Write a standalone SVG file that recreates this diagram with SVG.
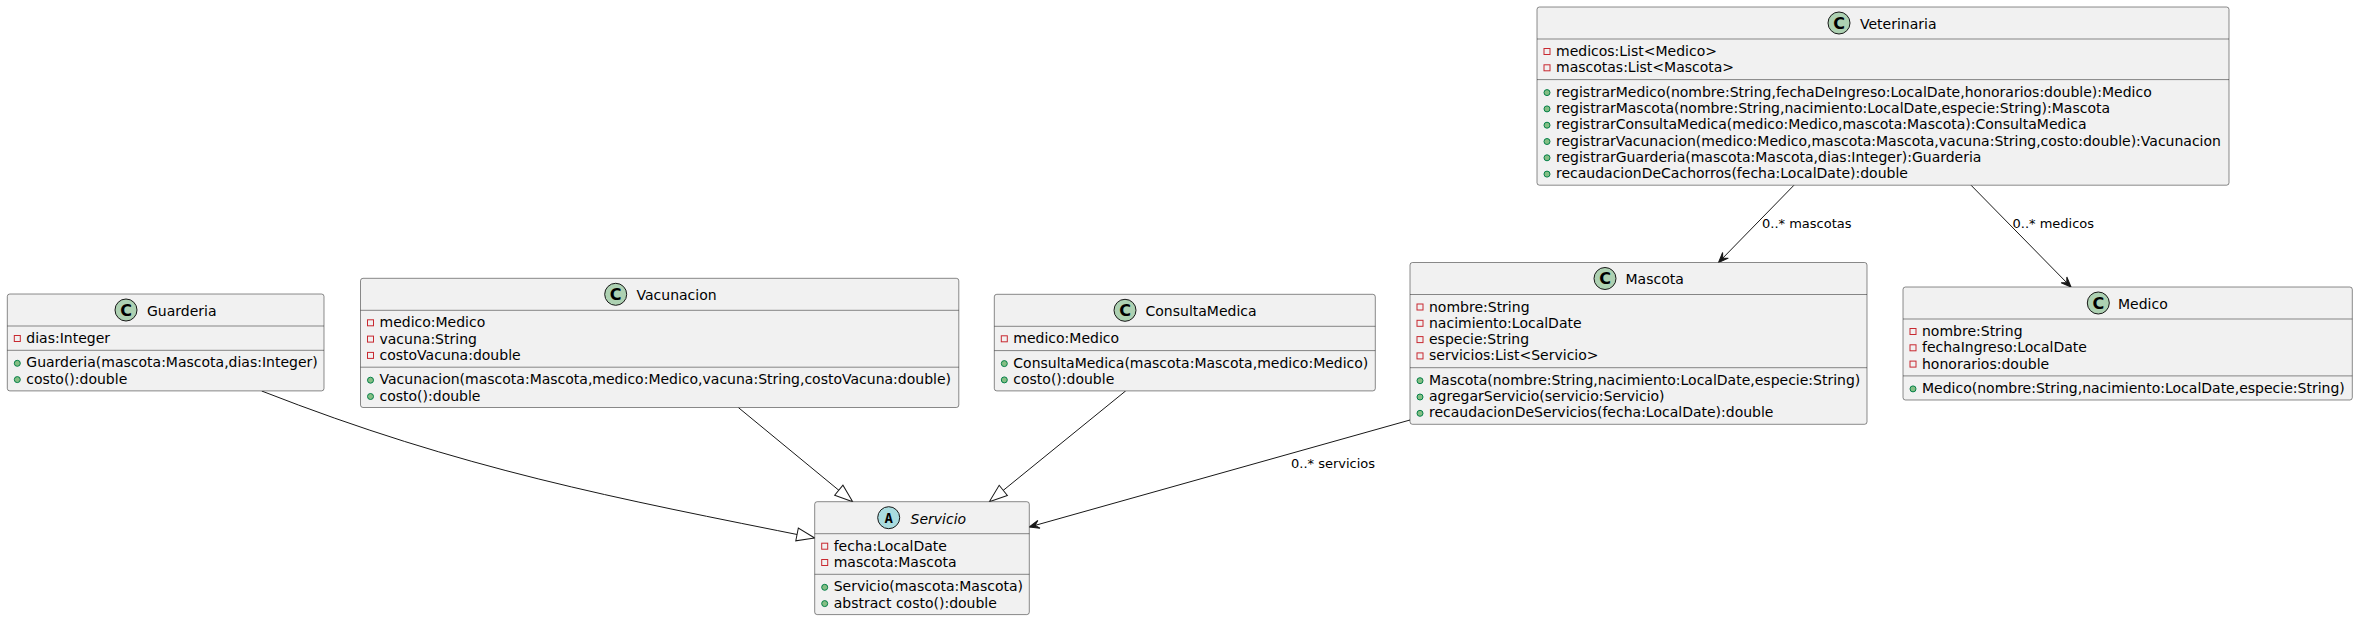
<svg xmlns="http://www.w3.org/2000/svg" width="2358" height="620" viewBox="0 0 2358 620">
<style>
.bg{fill:#FFFFFF}
.box{fill:#F1F1F1;stroke:#181818;stroke-width:0.5}
.sep{stroke:#181818;stroke-width:0.5}
.t{font-family:"DejaVu Sans","Noto Sans",sans-serif;font-size:14px;fill:#000000}
.it{font-style:italic}
.lbl{font-family:"DejaVu Sans","Noto Sans",sans-serif;font-size:13px;fill:#000000}
.priv{fill:none;stroke:#C82930;stroke-width:1}
.pub{fill:#84BE84;stroke:#038048;stroke-width:1}
.cc{fill:#ADD1B2;stroke:#181818;stroke-width:1}
.ca{fill:#A9DCDF;stroke:#181818;stroke-width:1}
.glyph{font-family:"DejaVu Sans",sans-serif;font-size:16px;font-weight:bold;fill:#000000;text-anchor:middle}
.glyphA{font-family:"DejaVu Sans Mono",monospace;font-size:14px;font-weight:bold;fill:#000000;text-anchor:middle}
.edge{fill:none;stroke:#181818;stroke-width:1}
</style>
<defs>
<marker id="arrow" viewBox="-12 -6 14 12" refX="0" refY="0" markerWidth="14" markerHeight="12" markerUnits="userSpaceOnUse" orient="auto">
<path d="M0,0 L-10,-4 L-6,0 L-10,4 Z" fill="#181818" stroke="#181818" stroke-width="1"/>
</marker>
<marker id="tri" viewBox="-20 -8 22 16" refX="0" refY="0" markerWidth="22" markerHeight="16" markerUnits="userSpaceOnUse" orient="auto">
<path d="M0,0 L-18,-6.5 L-18,6.5 Z" fill="#FFFFFF" stroke="#181818" stroke-width="1"/>
</marker>
</defs>
<rect class="bg" x="0" y="0" width="2358" height="620"/>

<g id="connectors">
<path class="edge" d="M1794,185.2 L1718.5,262.5" marker-end="url(#arrow)"/>
<text class="lbl" x="1762" y="227.7">0..* mascotas</text>
<path class="edge" d="M1971,185.2 L2071,287" marker-end="url(#arrow)"/>
<text class="lbl" x="2012.5" y="227.7">0..* medicos</text>
<path class="edge" d="M1410,420 L1029.3,527" marker-end="url(#arrow)"/>
<text class="lbl" x="1291" y="467.7">0..* servicios</text>
<path class="edge" d="M261.7,391 C461.7,469.3 614.7,498 814.7,538" marker-end="url(#tri)"/>
<path class="edge" d="M738.3,407.5 L852.7,501.7" marker-end="url(#tri)"/>
<path class="edge" d="M1125.7,390.9 L989.3,501.7" marker-end="url(#tri)"/>
</g>

<g id="Veterinaria">
<rect class="box" x="1537" y="7" width="692" height="178.2" rx="2.5" ry="2.5"/>
<circle class="cc" cx="1839" cy="23" r="11"/>
<text class="glyph" x="1839" y="28.8">C</text>
<text class="t" x="1860" y="28.8">Veterinaria</text>
<line class="sep" x1="1537" y1="39" x2="2229" y2="39"/>
<rect class="priv" x="1544" y="48.5" width="6" height="6"/>
<text class="t" x="1556" y="56">medicos:List&lt;Medico&gt;</text>
<rect class="priv" x="1544" y="64.8" width="6" height="6"/>
<text class="t" x="1556" y="72.3">mascotas:List&lt;Mascota&gt;</text>
<line class="sep" x1="1537" y1="79.6" x2="2229" y2="79.6"/>
<circle class="pub" cx="1547" cy="92.6" r="3"/>
<text class="t" x="1556" y="96.6">registrarMedico(nombre:String,fechaDeIngreso:LocalDate,honorarios:double):Medico</text>
<circle class="pub" cx="1547" cy="108.9" r="3"/>
<text class="t" x="1556" y="112.9">registrarMascota(nombre:String,nacimiento:LocalDate,especie:String):Mascota</text>
<circle class="pub" cx="1547" cy="125.2" r="3"/>
<text class="t" x="1556" y="129.2">registrarConsultaMedica(medico:Medico,mascota:Mascota):ConsultaMedica</text>
<circle class="pub" cx="1547" cy="141.5" r="3"/>
<text class="t" x="1556" y="145.5">registrarVacunacion(medico:Medico,mascota:Mascota,vacuna:String,costo:double):Vacunacion</text>
<circle class="pub" cx="1547" cy="157.8" r="3"/>
<text class="t" x="1556" y="161.8">registrarGuarderia(mascota:Mascota,dias:Integer):Guarderia</text>
<circle class="pub" cx="1547" cy="174.1" r="3"/>
<text class="t" x="1556" y="178.1">recaudacionDeCachorros(fecha:LocalDate):double</text>
</g>

<g id="Mascota">
<rect class="box" x="1410" y="262.5" width="457" height="161.8" rx="2.5" ry="2.5"/>
<circle class="cc" cx="1605" cy="278.5" r="11"/>
<text class="glyph" x="1605" y="284.3">C</text>
<text class="t" x="1625.5" y="284.3">Mascota</text>
<line class="sep" x1="1410" y1="294.5" x2="1867" y2="294.5"/>
<rect class="priv" x="1417" y="304" width="6" height="6"/>
<text class="t" x="1429" y="311.5">nombre:String</text>
<rect class="priv" x="1417" y="320.3" width="6" height="6"/>
<text class="t" x="1429" y="327.8">nacimiento:LocalDate</text>
<rect class="priv" x="1417" y="336.6" width="6" height="6"/>
<text class="t" x="1429" y="344.1">especie:String</text>
<rect class="priv" x="1417" y="352.9" width="6" height="6"/>
<text class="t" x="1429" y="360.4">servicios:List&lt;Servicio&gt;</text>
<line class="sep" x1="1410" y1="367.7" x2="1867" y2="367.7"/>
<circle class="pub" cx="1420" cy="380.7" r="3"/>
<text class="t" x="1429" y="384.7">Mascota(nombre:String,nacimiento:LocalDate,especie:String)</text>
<circle class="pub" cx="1420" cy="397" r="3"/>
<text class="t" x="1429" y="401">agregarServicio(servicio:Servicio)</text>
<circle class="pub" cx="1420" cy="413.3" r="3"/>
<text class="t" x="1429" y="417.3">recaudacionDeServicios(fecha:LocalDate):double</text>
</g>

<g id="Medico">
<rect class="box" x="1903" y="287" width="449.3" height="113" rx="2.5" ry="2.5"/>
<circle class="cc" cx="2098.3" cy="303" r="11"/>
<text class="glyph" x="2098.3" y="308.8">C</text>
<text class="t" x="2118" y="308.8">Medico</text>
<line class="sep" x1="1903" y1="319" x2="2352.3" y2="319"/>
<rect class="priv" x="1910" y="328.5" width="6" height="6"/>
<text class="t" x="1922" y="336">nombre:String</text>
<rect class="priv" x="1910" y="344.8" width="6" height="6"/>
<text class="t" x="1922" y="352.3">fechaIngreso:LocalDate</text>
<rect class="priv" x="1910" y="361.1" width="6" height="6"/>
<text class="t" x="1922" y="368.6">honorarios:double</text>
<line class="sep" x1="1903" y1="375.9" x2="2352.3" y2="375.9"/>
<circle class="pub" cx="1913" cy="388.9" r="3"/>
<text class="t" x="1922" y="392.9">Medico(nombre:String,nacimiento:LocalDate,especie:String)</text>
</g>

<g id="Guarderia">
<rect class="box" x="7.3" y="294" width="316.7" height="96.9" rx="2.5" ry="2.5"/>
<circle class="cc" cx="126" cy="310" r="11"/>
<text class="glyph" x="126" y="315.8">C</text>
<text class="t" x="147" y="315.8">Guarderia</text>
<line class="sep" x1="7.3" y1="326" x2="324" y2="326"/>
<rect class="priv" x="14.3" y="335.5" width="6" height="6"/>
<text class="t" x="26.3" y="343">dias:Integer</text>
<line class="sep" x1="7.3" y1="350.3" x2="324" y2="350.3"/>
<circle class="pub" cx="17.3" cy="363.3" r="3"/>
<text class="t" x="26.3" y="367.3">Guarderia(mascota:Mascota,dias:Integer)</text>
<circle class="pub" cx="17.3" cy="379.6" r="3"/>
<text class="t" x="26.3" y="383.6">costo():double</text>
</g>

<g id="Vacunacion">
<rect class="box" x="360.5" y="278.3" width="598.3" height="129.2" rx="2.5" ry="2.5"/>
<circle class="cc" cx="615.7" cy="294.3" r="11"/>
<text class="glyph" x="615.7" y="300.1">C</text>
<text class="t" x="636.5" y="300.1">Vacunacion</text>
<line class="sep" x1="360.5" y1="310.3" x2="958.8" y2="310.3"/>
<rect class="priv" x="367.5" y="319.8" width="6" height="6"/>
<text class="t" x="379.5" y="327.3">medico:Medico</text>
<rect class="priv" x="367.5" y="336.1" width="6" height="6"/>
<text class="t" x="379.5" y="343.6">vacuna:String</text>
<rect class="priv" x="367.5" y="352.4" width="6" height="6"/>
<text class="t" x="379.5" y="359.9">costoVacuna:double</text>
<line class="sep" x1="360.5" y1="367.2" x2="958.8" y2="367.2"/>
<circle class="pub" cx="370.5" cy="380.2" r="3"/>
<text class="t" x="379.5" y="384.2">Vacunacion(mascota:Mascota,medico:Medico,vacuna:String,costoVacuna:double)</text>
<circle class="pub" cx="370.5" cy="396.5" r="3"/>
<text class="t" x="379.5" y="400.5">costo():double</text>
</g>

<g id="ConsultaMedica">
<rect class="box" x="994.3" y="294.3" width="381" height="96.6" rx="2.5" ry="2.5"/>
<circle class="cc" cx="1125" cy="310.3" r="11"/>
<text class="glyph" x="1125" y="316.1">C</text>
<text class="t" x="1145.5" y="316.1">ConsultaMedica</text>
<line class="sep" x1="994.3" y1="326.3" x2="1375.3" y2="326.3"/>
<rect class="priv" x="1001.3" y="335.8" width="6" height="6"/>
<text class="t" x="1013.3" y="343.3">medico:Medico</text>
<line class="sep" x1="994.3" y1="350.6" x2="1375.3" y2="350.6"/>
<circle class="pub" cx="1004.3" cy="363.6" r="3"/>
<text class="t" x="1013.3" y="367.6">ConsultaMedica(mascota:Mascota,medico:Medico)</text>
<circle class="pub" cx="1004.3" cy="379.9" r="3"/>
<text class="t" x="1013.3" y="383.9">costo():double</text>
</g>

<g id="Servicio">
<rect class="box" x="814.7" y="501.7" width="214.6" height="112.9" rx="2.5" ry="2.5"/>
<circle class="ca" cx="888.7" cy="517.7" r="11"/>
<text class="glyphA" x="888.7" y="522.8">A</text>
<text class="t it" x="910.5" y="523.5">Servicio</text>
<line class="sep" x1="814.7" y1="533.7" x2="1029.3" y2="533.7"/>
<rect class="priv" x="821.7" y="543.2" width="6" height="6"/>
<text class="t" x="833.7" y="550.7">fecha:LocalDate</text>
<rect class="priv" x="821.7" y="559.5" width="6" height="6"/>
<text class="t" x="833.7" y="567">mascota:Mascota</text>
<line class="sep" x1="814.7" y1="574.3" x2="1029.3" y2="574.3"/>
<circle class="pub" cx="824.7" cy="587.3" r="3"/>
<text class="t" x="833.7" y="591.3">Servicio(mascota:Mascota)</text>
<circle class="pub" cx="824.7" cy="603.6" r="3"/>
<text class="t" x="833.7" y="607.6">abstract costo():double</text>
</g>
</svg>
